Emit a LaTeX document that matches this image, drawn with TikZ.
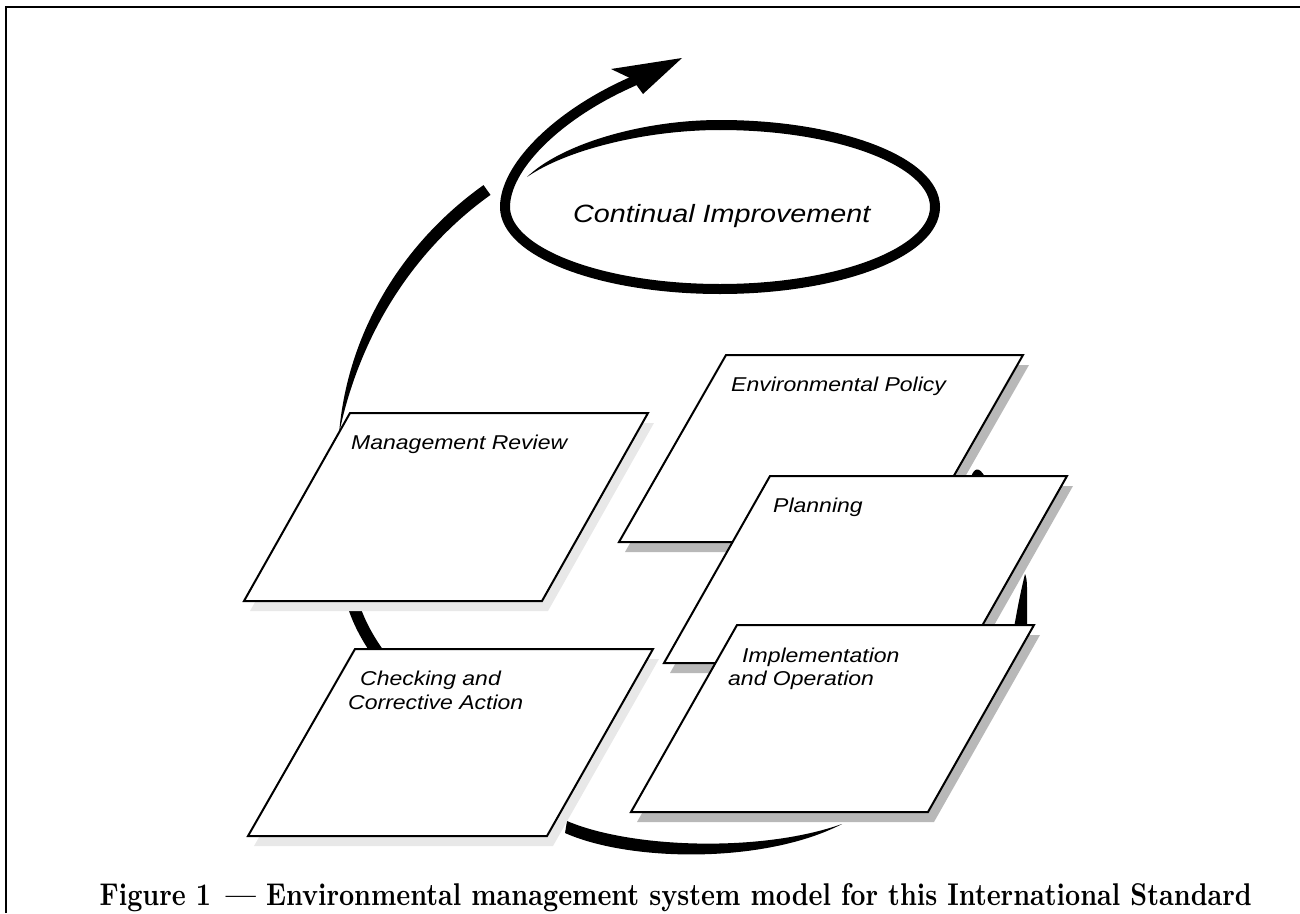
\documentclass[tikz,border=0pt]{standalone}
\usepackage{fontspec}
\newfontfamily\lblfont[FakeStretch=1.15]{Liberation Sans}
\begin{document}
\begin{tikzpicture}[x=1pt,y=-1pt,
  box/.style={draw=black,fill=white,line width=2pt,line join=miter},
  shadowbox/.style={fill=black!28,draw=none},
  faintshadow/.style={fill=black!9,draw=none},
  lbl/.style={anchor=base west,inner sep=0pt,font=\lblfont\itshape\fontsize{20}{23}\selectfont},
  biglbl/.style={anchor=base west,inner sep=0pt,font=\lblfont\itshape\fontsize{25}{28}\selectfont},
  cycstroke/.style={line width=12pt,black},
]
\useasboundingbox (0,0) rectangle (1300,913);

% ---- Continual improvement spiral with arrow ----
\fill (527,177) .. controls (560,145) and (640,120) .. (720,120) -- (720,130)
      .. controls (645,130) and (566,150) .. (527,177) -- cycle;
\draw[line width=10pt] (720,125) .. controls (838.7,125) and (935,161.7) .. (935,207)
      .. controls (935,252.3) and (838.7,289) .. (720,289)
      .. controls (601.3,289) and (505,252.3) .. (505,207)
      .. controls (505,168) and (555,117) .. (627,84) -- (640,78);
\fill (682,58) -- (611,69) -- (632,79) -- (643,94) -- cycle;
\node[biglbl] (ci) at (573,222) {Continual Improvement};

% ---- cycle pieces behind the boxes ----
\draw[cycstroke] (353,604) .. controls (358,620) and (366,636) .. (378,653);
\fill (567,821) .. controls (630,848) and (760,853) .. (842,824)
      .. controls (765,864) and (630,862) .. (565,833) -- cycle;
\fill (971,477) .. controls (974,468) and (979,466) .. (985,477) -- cycle;

% ---- boxes ----
% Management Review
\fill[faintshadow] (356,423) -- (654,423) -- (548,611) -- (250,611) -- cycle;
\draw[box] (350,413) -- (648,413) -- (542,601) -- (244,601) -- cycle;
% Checking and Corrective Action
\fill[faintshadow] (361,659) -- (659,659) -- (553,846) -- (254,846) -- cycle;
\draw[box] (355,649) -- (653,649) -- (547,836) -- (248,836) -- cycle;
% Environmental Policy
\fill[shadowbox] (732,365) -- (1029,365) -- (922,552) -- (625,552) -- cycle;
\draw[box] (726,355) -- (1023,355) -- (916,542) -- (619,542) -- cycle;
% Planning
\fill[shadowbox] (776,486) -- (1073,486) -- (967,673) -- (670,673) -- cycle;
\draw[box] (770,476) -- (1067,476) -- (961,663) -- (664,663) -- cycle;
% right piece of the cycle between Planning and Implementation
\fill (1014,628) -- (1027,628) -- (1027,588) .. controls (1027,580) and (1026,576) .. (1025,574)
      .. controls (1021,590) and (1017,610) .. (1014,628) -- cycle;
% Implementation and Operation
\fill[shadowbox] (743,635) -- (1040,635) -- (934,822) -- (637,822) -- cycle;
\draw[box] (737,625) -- (1034,625) -- (928,812) -- (631,812) -- cycle;

% ---- arc from Management Review up to the spiral ----
\fill (339,434) .. controls (347.3,332.5) and (402.2,243) .. (483.5,185.1) -- (490.5,194.9)
      .. controls (411.8,251) and (358.7,337.5) .. (339,434) -- cycle;

% ---- labels ----
\node[lbl] (mr) at (351,449) {Management Review};
\node[lbl] (ep) at (731,391) {Environmental Policy};
\node[lbl] (pl) at (773,512) {Planning};
\node[lbl] (im1) at (742,662) {Implementation};
\node[lbl] (im2) at (728,685) {and Operation};
\node[lbl] (ch1) at (360,685) {Checking and};
\node[lbl] (ch2) at (348,709) {Corrective Action};

% ---- caption ----
\node[anchor=base east,inner sep=0pt] (cap) at (1252,905)
  {\resizebox{1152pt}{22pt}{\bfseries Figure 1 \,— Environmental management system model for this International Standard}};

% ---- frame ----
\draw[line width=2.3pt,line join=miter] (6.2,913) -- (6.2,6.7) -- (1300,6.7);
\end{tikzpicture}
\end{document}
